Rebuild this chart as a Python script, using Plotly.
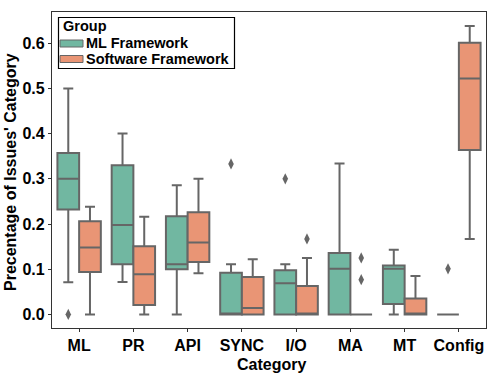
import plotly.graph_objects as go

# -------------------------------------------------
# Box statistics
# -------------------------------------------------
categories = ["ML", "PR", "API", "SYNC", "I/O", "MA", "MT", "Config"]

ml_lower = [0.071, 0.072, 0.0, 0.0, 0.0, 0.0, 0.0, 0.0]
ml_q1 = [0.232, 0.111, 0.100, 0.0, 0.0, 0.0, 0.023, 0.0]
ml_median = [0.300, 0.198, 0.111, 0.0, 0.069, 0.101, 0.101, 0.0]
ml_q3 = [0.357, 0.330, 0.217, 0.092, 0.098, 0.136, 0.108, 0.0]
ml_upper = [0.500, 0.400, 0.286, 0.111, 0.111, 0.334, 0.143, 0.0]

sw_lower = [0.0, 0.0, 0.091, 0.0, 0.0, 0.0, 0.0, 0.167]
sw_q1 = [0.094, 0.021, 0.116, 0.0, 0.0, 0.0, 0.0, 0.364]
sw_median = [0.148, 0.089, 0.159, 0.014, 0.0, 0.0, 0.0, 0.522]
sw_q3 = [0.206, 0.151, 0.226, 0.083, 0.063, 0.0, 0.035, 0.601]
sw_upper = [0.238, 0.216, 0.300, 0.122, 0.125, 0.0, 0.085, 0.638]

# outliers (category, value)
ml_out_cat = ["ML", "SYNC", "I/O", "Config"]
ml_out_val = [0.0, 0.333, 0.300, 0.101]
sw_out_cat = ["I/O", "MA", "MA"]
sw_out_val = [0.167, 0.125, 0.077]

y_ticks = [0.0, 0.1, 0.2, 0.3, 0.4, 0.5, 0.6]

GREEN = "#71b7a1"
ORANGE = "#e99575"
LINE = "#666666"
AXIS = "#333333"
FONT = dict(family="Liberation Sans", weight="bold", color="black")

W, H = 498, 374
L, R, T, B = 52, 12, 12, 46


def px_x(p):
    return (p - L) / (W - L - R)


def px_y(p):
    return (H - B - p) / (H - T - B)


fig = go.Figure()

series = [
    ("ML Framework", GREEN, "ml", ml_lower, ml_q1, ml_median, ml_q3, ml_upper),
    ("Software Framework", ORANGE, "sw", sw_lower, sw_q1, sw_median, sw_q3, sw_upper),
]

for name, color, grp, lo, q1, med, q3, up in series:
    fig.add_trace(go.Box(
        name=name,
        x=categories,
        q1=q1, median=med, q3=q3,
        lowerfence=lo, upperfence=up,
        fillcolor=color,
        line=dict(color=LINE, width=2),
        whiskerwidth=0.46,
        offsetgroup=grp,
        boxpoints=False,
        hoverinfo="skip",
        showlegend=False,
    ))

# outlier diamonds
for grp, xs, ys in [("ml", ml_out_cat, ml_out_val), ("sw", sw_out_cat, sw_out_val)]:
    fig.add_trace(go.Scatter(
        x=xs, y=ys,
        mode="markers",
        marker=dict(symbol="diamond-tall", size=8, color=LINE),
        offsetgroup=grp,
        showlegend=False,
        hoverinfo="skip",
    ))

# -------------------------------------------------
# Legend box (drawn by hand, matplotlib style)
# -------------------------------------------------
shapes = [dict(type="rect", xref="paper", yref="paper",
               x0=px_x(58.5), x1=px_x(234.5), y0=px_y(68.5), y1=px_y(17.5),
               line=dict(color="black", width=1.2), fillcolor="white", layer="above")]
annotations = [dict(text="Group", xref="paper", yref="paper",
                    x=px_x(61), y=px_y(26), xanchor="left", yanchor="middle",
                    showarrow=False, font=dict(size=14.5, **FONT))]
for i, (name, color, *_rest) in enumerate(series):
    yc = 43.5 + i * 15.5
    shapes.append(dict(type="rect", xref="paper", yref="paper",
                       x0=px_x(60), x1=px_x(83), y0=px_y(yc + 3.5), y1=px_y(yc - 3.5),
                       line=dict(color=LINE, width=1), fillcolor=color, layer="above"))
    annotations.append(dict(text=name, xref="paper", yref="paper",
                            x=px_x(83.5), y=px_y(yc), xanchor="left", yanchor="middle",
                            showarrow=False, font=dict(size=14.5, **FONT)))

# axis titles
annotations.append(dict(text="Category", xref="paper", yref="paper",
                        x=px_x(271), y=px_y(364), xanchor="center", yanchor="middle",
                        showarrow=False, font=dict(size=16, **FONT)))
annotations.append(dict(text="Precentage of Issues' Category", xref="paper", yref="paper",
                        x=px_x(10), y=px_y(172), xanchor="center", yanchor="middle",
                        textangle=-90, showarrow=False, font=dict(size=16, **FONT)))

fig.update_layout(
    width=W, height=H,
    margin=dict(l=L, r=R, t=T, b=B),
    paper_bgcolor="white",
    plot_bgcolor="white",
    boxmode="group",
    boxgap=0.2,
    boxgroupgap=0,
    scattermode="group",
    scattergap=0.2,
    font=dict(size=14, **FONT),
    showlegend=False,
    shapes=shapes,
    annotations=annotations,
)

fig.update_xaxes(
    type="category",
    categoryorder="array", categoryarray=categories,
    range=[-0.5, 7.5],
    automargin=False,
    tickfont=dict(size=16, **FONT),
    showline=True, linecolor=AXIS, linewidth=1.2, mirror=True,
    ticks="outside", ticklen=3, tickcolor=AXIS,
    showgrid=False, zeroline=False,
)

fig.update_yaxes(
    range=[-0.03, 0.669],
    tickvals=y_ticks,
    tickformat=".1f",
    automargin=False,
    tickfont=dict(size=16, **FONT),
    showline=True, linecolor=AXIS, linewidth=1.2, mirror=True,
    ticks="outside", ticklen=3, tickcolor=AXIS,
    showgrid=False, zeroline=False,
)

# page body has a default 8px margin; remove it so the figure fills the window
fig.write_html("out.html", config={"displayModeBar": False},
               post_script="document.body.style.margin = '0';")
